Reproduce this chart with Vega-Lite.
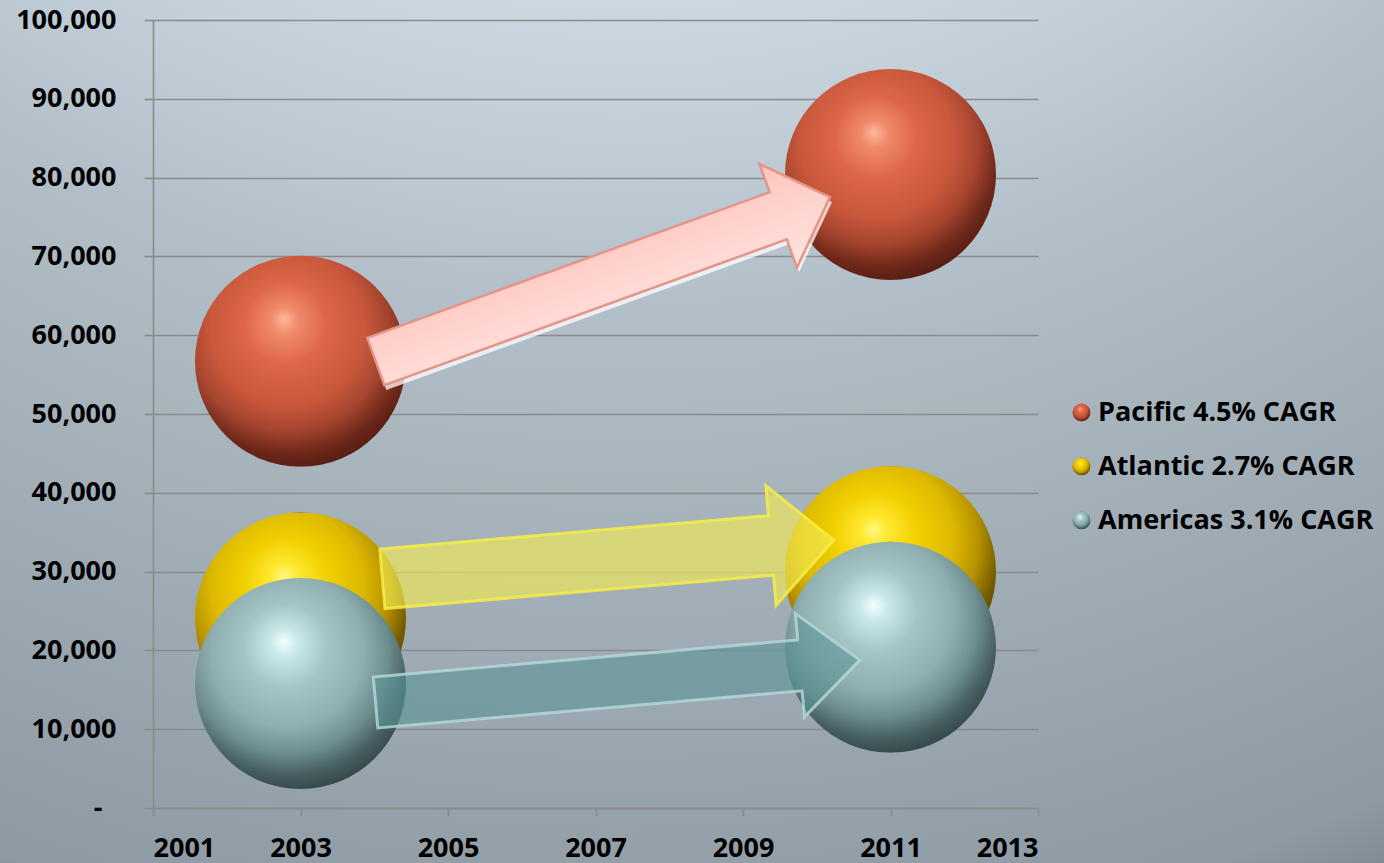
{
  "$schema": "https://vega.github.io/schema/vega-lite/v6.json",
  "width": 1384,
  "height": 863,
  "autosize": "none",
  "padding": 0,
  "background": "#a8b5bd",
  "config": {
    "font": "Open Sans",
    "view": {
      "stroke": null,
      "fill": {"expr": "{gradient: 'radial', x1: 0.45, y1: -0.435, r1: 0, x2: 0.45, y2: -0.435, r2: 1.373, stops: [{offset: 0.45, color: '#cdd9e1'}, {offset: 0.56, color: '#bcc9d2'}, {offset: 0.61, color: '#b3c0c9'}, {offset: 0.69, color: '#aab7bf'}, {offset: 0.96, color: '#8e9aa3'}, {offset: 1, color: '#7c8992'}]}"}
    },
    "axis": {
      "labelFont": "Open Sans",
      "labelFontWeight": "bold",
      "labelFontSize": 27,
      "labelColor": "#000000",
      "domainColor": "#8a8a8a",
      "domainWidth": 1.6,
      "tickColor": "#8a8a8a",
      "tickWidth": 1.6,
      "gridColor": "#8a8a8a",
      "gridWidth": 1.6,
      "gridOpacity": 1,
      "title": null
    }
  },
  "datasets": {
    "bubbles": [
      {"series": "Pacific 4.5% CAGR", "year": 2003, "value": 56700},
      {"series": "Pacific 4.5% CAGR", "year": 2011, "value": 80400},
      {"series": "Atlantic 2.7% CAGR", "year": 2003, "value": 24100},
      {"series": "Atlantic 2.7% CAGR", "year": 2011, "value": 30000},
      {"series": "Americas 3.1% CAGR", "year": 2003, "value": 15800},
      {"series": "Americas 3.1% CAGR", "year": 2011, "value": 20400}
    ],
    "arrows": [
      {"series": "Pacific", "year": 2007.1, "value": 67100},
      {"series": "Atlantic", "year": 2007.17, "value": 31540},
      {"series": "Americas", "year": 2007.3, "value": 16080}
    ]
  },
  "layer": [
    {
      "data": {"name": "bubbles"},
      "mark": {"type": "point", "shape": "circle", "filled": true, "opacity": 1, "size": 44521, "strokeWidth": 0},
      "encoding": {
        "x": {
          "field": "year", "type": "quantitative",
          "scale": {"domain": [2001, 2013], "range": [153, 1038], "nice": false, "zero": false},
          "axis": {
            "values": [2001, 2003, 2005, 2007, 2009, 2011, 2013],
            "format": "d",
            "grid": false,
            "offset": -55,
            "tickSize": 8,
            "labelPadding": 19
          }
        },
        "y": {
          "field": "value", "type": "quantitative",
          "scale": {"domain": [0, 100000], "range": [808, 20], "nice": false, "zero": true},
          "axis": {
            "values": [0, 10000, 20000, 30000, 40000, 50000, 60000, 70000, 80000, 90000, 100000],
            "labelExpr": "datum.value === 0 ? '-' : format(datum.value, ',')",
            "grid": true,
            "offset": -153,
            "tickSize": 9,
            "labelPadding": {"condition": {"test": "datum.value === 0", "value": 42}, "value": 28}
          }
        },
        "color": {
          "field": "series", "type": "nominal",
          "scale": {
            "domain": ["Pacific 4.5% CAGR", "Atlantic 2.7% CAGR", "Americas 3.1% CAGR"],
            "range": [
              {"expr": "{gradient: 'radial', x1: 0.42, y1: 0.3, r1: 0, x2: 0.45, y2: 0.38, r2: 0.66, stops: [{offset: 0, color: '#ffb89e'}, {offset: 0.1, color: '#f08a6a'}, {offset: 0.3, color: '#dc6647'}, {offset: 0.55, color: '#c9583c'}, {offset: 0.72, color: '#a5442f'}, {offset: 0.86, color: '#6e2819'}, {offset: 1, color: '#4e1a10'}]}"},
              {"expr": "{gradient: 'radial', x1: 0.42, y1: 0.3, r1: 0, x2: 0.45, y2: 0.38, r2: 0.66, stops: [{offset: 0, color: '#fffa80'}, {offset: 0.1, color: '#ffe830'}, {offset: 0.3, color: '#f0d000'}, {offset: 0.55, color: '#dcb800'}, {offset: 0.72, color: '#b69200'}, {offset: 0.86, color: '#765c00'}, {offset: 1, color: '#4a3a00'}]}"},
              {"expr": "{gradient: 'radial', x1: 0.42, y1: 0.3, r1: 0, x2: 0.45, y2: 0.38, r2: 0.66, stops: [{offset: 0, color: '#f4ffff'}, {offset: 0.1, color: '#cae8ea'}, {offset: 0.3, color: '#a4c4c6'}, {offset: 0.55, color: '#8eaeb0'}, {offset: 0.72, color: '#6c8c8e'}, {offset: 0.86, color: '#465e60'}, {offset: 1, color: '#2e4042'}]}"}
            ]
          },
          "legend": {
            "orient": "none",
            "legendX": 1068,
            "legendY": 399,
            "title": null,
            "symbolType": "circle",
            "symbolSize": 324,
            "symbolStrokeWidth": 0,
            "labelFont": "Open Sans",
            "labelFontWeight": "bold",
            "labelFontSize": 27,
            "labelColor": "#000000",
            "labelOffset": 3,
            "labelLimit": 400,
            "rowPadding": 26,
            "padding": 0
          }
        }
      }
    },
    {
      "data": {"name": "arrows"},
      "transform": [{"filter": "datum.series === 'Pacific'"}],
      "mark": {
        "type": "point",
        "shape": "M-1,-0.104L0.772,-0.104L0.772,-0.228L1,0L0.772,0.228L0.772,0.104L-1,0.104Z",
        "size": 233289, "angle": 340.1, "filled": true, "opacity": 0.75,
        "fill": "#ffffff", "strokeWidth": 0, "xOffset": 2, "yOffset": 5
      },
      "encoding": {
        "x": {"field": "year", "type": "quantitative"},
        "y": {"field": "value", "type": "quantitative"}
      }
    },
    {
      "data": {"name": "arrows"},
      "transform": [{"filter": "datum.series === 'Pacific'"}],
      "mark": {
        "type": "point",
        "shape": "M-1,-0.104L0.772,-0.104L0.772,-0.228L1,0L0.772,0.228L0.772,0.104L-1,0.104Z",
        "size": 233289, "angle": 340.1, "filled": true, "opacity": 1,
        "fill": {"gradient": "linear", "x1": 0, "y1": 0, "x2": 0, "y2": 1, "stops": [{"offset": 0, "color": "#ffc4bc"}, {"offset": 1, "color": "#ffe4e0"}]},
        "stroke": "#e3958c", "strokeWidth": 2.5
      },
      "encoding": {
        "x": {"field": "year", "type": "quantitative"},
        "y": {"field": "value", "type": "quantitative"}
      }
    },
    {
      "data": {"name": "arrows"},
      "transform": [{"filter": "datum.series === 'Atlantic'"}],
      "mark": {
        "type": "point",
        "shape": "M-1,-0.132L0.722,-0.132L0.722,-0.265L1,0L0.722,0.265L0.722,0.132L-1,0.132Z",
        "size": 205209, "angle": 355.1, "filled": true, "opacity": 1,
        "fill": "#f2ea55", "fillOpacity": 0.64,
        "stroke": "#f6ec48", "strokeOpacity": 0.85, "strokeWidth": 3
      },
      "encoding": {
        "x": {"field": "year", "type": "quantitative"},
        "y": {"field": "value", "type": "quantitative"}
      }
    },
    {
      "data": {"name": "arrows"},
      "transform": [{"filter": "datum.series === 'Americas'"}],
      "mark": {
        "type": "point",
        "shape": "M-1,-0.105L0.753,-0.105L0.753,-0.214L1,0L0.753,0.214L0.753,0.105L-1,0.105Z",
        "size": 236196, "angle": 355.0, "filled": true, "opacity": 1,
        "fill": "#5a9496", "fillOpacity": 0.6,
        "stroke": "#b8d8da", "strokeOpacity": 0.8, "strokeWidth": 3
      },
      "encoding": {
        "x": {"field": "year", "type": "quantitative"},
        "y": {"field": "value", "type": "quantitative"}
      }
    }
  ]
}
